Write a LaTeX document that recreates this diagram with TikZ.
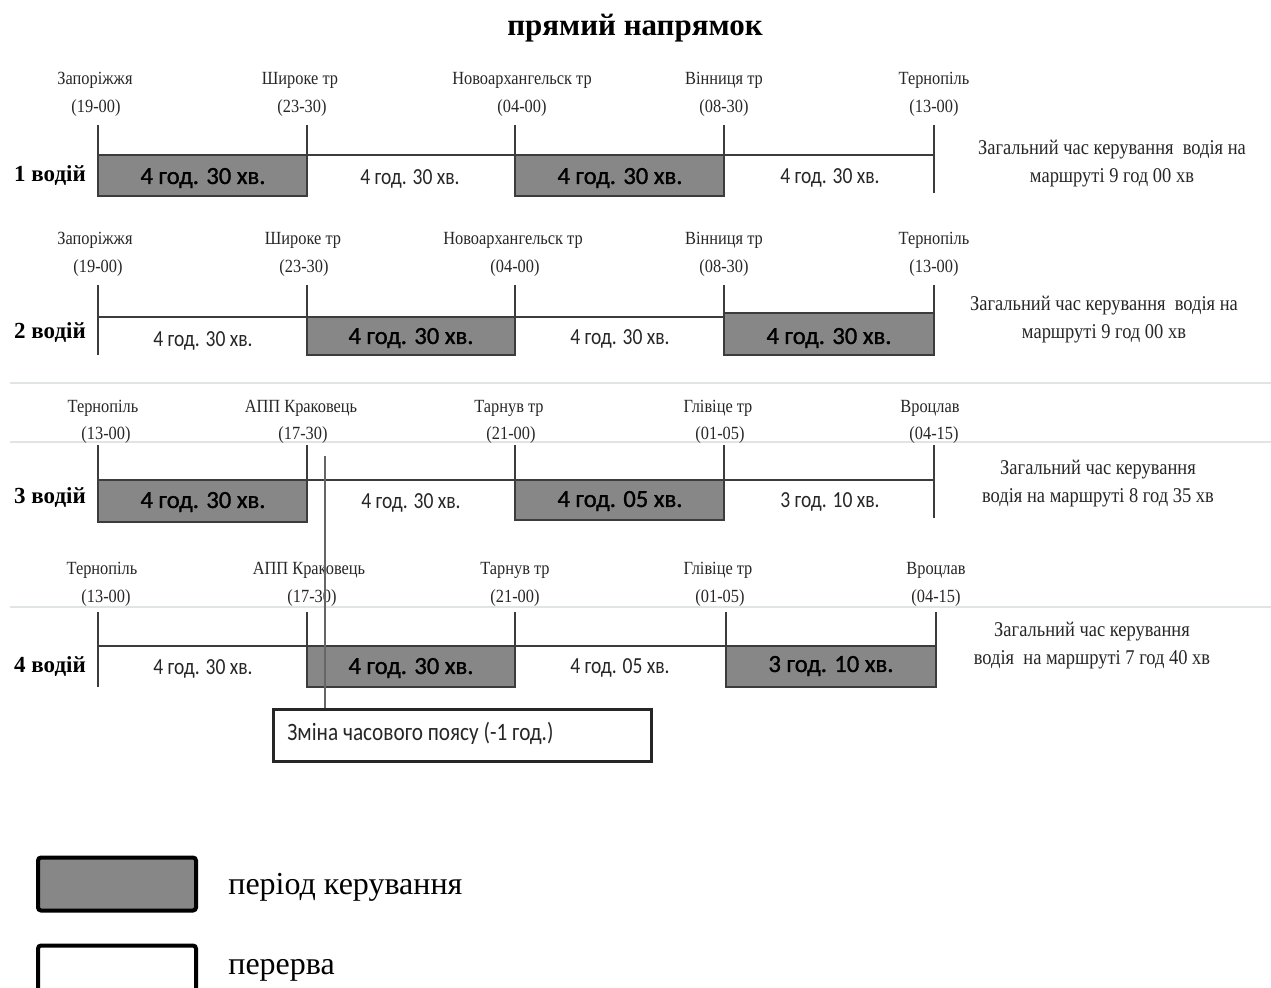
\documentclass[tikz,border=0pt]{standalone}
\usepackage{fontspec}
\setmainfont{Liberation Serif}
\newfontfamily\condserif[FakeStretch=0.88]{Liberation Serif}
\newfontfamily\condsans[FakeStretch=0.85]{Carlito}
\newfontfamily\boxsans[FakeBold=1.2]{Carlito}
\definecolor{boxgray}{RGB}{135,135,135}
\definecolor{linecol}{RGB}{60,60,60}
\definecolor{sepcol}{RGB}{225,228,228}
\begin{document}
\begin{tikzpicture}[x=0.5pt,y=-0.5pt,
  stn/.style={font=\condserif\fontsize{9.3}{10}\selectfont, inner sep=0pt, text=black!85},
  drv/.style={font=\bfseries\fontsize{11.5}{12}\selectfont, inner sep=0pt},
  drive/.style={draw=linecol, line width=1pt, fill=boxgray},
  tl/.style={draw=linecol, line width=1pt},
  dlab/.style={font=\boxsans\fontsize{12.3}{13}\selectfont, inner sep=0pt, text=black},
  blab/.style={font=\condsans\fontsize{11.5}{12}\selectfont, inner sep=0pt, text=black!85},
  tot/.style={font=\condserif\fontsize{10.5}{14}\selectfont, inner sep=0pt, align=center, text=black!85},
  sep/.style={draw=sepcol, line width=1pt},
  leg/.style={draw=black, line width=2pt, rounded corners=1.5pt}
]
\useasboundingbox (0,0) rectangle (1271,987);

% title
\node[font=\bfseries\fontsize{15.5}{17}\selectfont, inner sep=0pt] (title) at (635,28) {прямий напрямок};

% separators
\draw[sep] (10,383) -- (1271,383);
\draw[sep] (10,442) -- (1271,442);
\draw[sep] (10,607) -- (1271,607);

% ---------------- Row 1 ----------------
\node[drv] (d1) at (50,176) {1 водій};
\foreach \n/\x/\nm/\t/\tx in {a/95/Запоріжжя/(19-00)/96, b/300/Широке тр/(23-30)/302, c/522/Новоархангельск тр/(04-00)/522, d/724/Вінниця тр/(08-30)/724, e/934/Тернопіль/(13-00)/934}{
  \node[stn] (r1\n) at (\x,80) {\nm};
  \node[stn] (r1t\n) at (\tx,108) {\t};
}
\coordinate (r1l) at (98,155); \coordinate (r1r) at (934,155);
\draw[tl] (r1l) -- (r1r);
\draw[drive] (98,155) rectangle (307,196);
\draw[drive] (515,155) rectangle (724,196);
\foreach \x/\b in {98/196,307/196,515/196,724/196,934/193}{
  \draw[tl] (\x,125) -- (\x,\b);
}
\node[dlab] (r1g1) at (203,178) {4 год. 30 хв.};
\node[dlab] (r1g2) at (620,178) {4 год. 30 хв.};
\node[blab] (r1w1) at (410,179) {4 год. 30 хв.};
\node[blab] (r1w2) at (830,178) {4 год. 30 хв.};
\node[tot] (r1tot) at (1112,164) {Загальний час керування \ водія на\\маршруті 9 год 00 хв};

% ---------------- Row 2 ----------------
\node[drv] (d2) at (50,333) {2 водій};
\foreach \n/\x/\nm/\t/\tx in {a/95/Запоріжжя/(19-00)/98, b/303/Широке тр/(23-30)/304, c/513/Новоархангельск тр/(04-00)/515, d/724/Вінниця тр/(08-30)/724, e/934/Тернопіль/(13-00)/934}{
  \node[stn] (r2\n) at (\x,240) {\nm};
  \node[stn] (r2t\n) at (\tx,268) {\t};
}
\coordinate (r2l) at (98,317); \coordinate (r2r) at (934,317);
\draw[tl] (r2l) -- (r2r);
\draw[drive] (307,317) rectangle (515,355);
\draw[drive] (724,313) rectangle (934,355);
\foreach \x/\b in {98/355,307/355,515/355,724/355,934/355}{
  \draw[tl] (\x,285) -- (\x,\b);
}
\node[dlab] (r2g1) at (411,338) {4 год. 30 хв.};
\node[dlab] (r2g2) at (829,338) {4 год. 30 хв.};
\node[blab] (r2w1) at (203,341) {4 год. 30 хв.};
\node[blab] (r2w2) at (620,339) {4 год. 30 хв.};
\node[tot] (r2tot) at (1104,320) {Загальний час керування \ водія на\\маршруті 9 год 00 хв};

% ---------------- Row 3 ----------------
\node[drv] (d3) at (50,498) {3 водій};
\foreach \n/\x/\nm/\t/\tx in {a/103/Тернопіль/(13-00)/106, b/301/АПП Краковець/(17-30)/303, c/509/Тарнув тр/(21-00)/511, d/718/Глівіце тр/(01-05)/720, e/930/Вроцлав/(04-15)/934}{
  \node[stn] (r3\n) at (\x,408) {\nm};
  \node[stn] (r3t\n) at (\tx,435) {\t};
}
\coordinate (r3l) at (98,480); \coordinate (r3r) at (934,480);
\draw[tl] (r3l) -- (r3r);
\draw[drive] (98,480) rectangle (307,522);
\draw[drive] (515,480) rectangle (724,520);
\foreach \x/\b in {98/522,307/522,515/520,724/520,934/518}{
  \draw[tl] (\x,445) -- (\x,\b);
}
\node[dlab] (r3g1) at (203,502) {4 год. 30 хв.};
\node[dlab] (r3g2) at (620,501) {4 год. 05 хв.};
\node[blab] (r3w1) at (411,503) {4 год. 30 хв.};
\node[blab] (r3w2) at (830,502) {3 год. 10 хв.};
\node[tot] (r3tot) at (1098,484) {Загальний час керування\\водія на маршруті 8 год 35 хв};

% ---------------- Row 4 ----------------
\node[drv] (d4) at (50,667) {4 водій};
\foreach \n/\x/\nm/\t/\tx in {a/102/Тернопіль/(13-00)/106, b/309/АПП Краковець/(17-30)/312, c/515/Тарнув тр/(21-00)/515, d/718/Глівіце тр/(01-05)/720, e/936/Вроцлав/(04-15)/936}{
  \node[stn] (r4\n) at (\x,570) {\nm};
  \node[stn] (r4t\n) at (\tx,598) {\t};
}
\coordinate (r4l) at (98,646); \coordinate (r4r) at (936,646);
\draw[tl] (r4l) -- (r4r);
\draw[drive] (307,646) rectangle (515,687);
\draw[drive] (726,646) rectangle (936,687);
\foreach \x/\b in {98/687,307/687,515/687,726/687,936/687}{
  \draw[tl] (\x,612) -- (\x,\b);
}
\node[dlab] (r4g1) at (411,668) {4 год. 30 хв.};
\node[dlab] (r4g2) at (831,666) {3 год. 10 хв.};
\node[blab] (r4w1) at (203,669) {4 год. 30 хв.};
\node[blab] (r4w2) at (620,668) {4 год. 05 хв.};
\node[tot] (r4tot) at (1092,646) {Загальний час керування\\водія \ на маршруті 7 год 40 хв};

% time zone change
\node[draw=black!85, line width=1.3pt, minimum width=378*0.5pt, minimum height=52*0.5pt, inner sep=0pt, anchor=north west] (tz) at (272,708) {};
\node[font=\condsans\fontsize{12.5}{13}\selectfont, text=black!85, anchor=west, inner sep=0pt] (tzt) at (287,733) {Зміна часового поясу (-1 год.)};
\coordinate (tztop) at (325,456);
\draw[draw=black!60, line width=0.8pt] (tztop) -- (tz.north west -| tztop);

% legend
\node[leg, fill=boxgray, minimum width=158*0.5pt, minimum height=53*0.5pt, inner sep=0pt] (lg1) at (117,884) {};
\node[font=\fontsize{16}{17}\selectfont, anchor=west, inner sep=0pt] (lg1t) at (228,887) {період керування};
\node[leg, fill=white, minimum width=158*0.5pt, minimum height=53*0.5pt, inner sep=0pt] (lg2) at (117,972) {};
\node[font=\fontsize{16}{17}\selectfont, anchor=west, inner sep=0pt] (lg2t) at (228,970) {перерва};
\end{tikzpicture}
\end{document}
